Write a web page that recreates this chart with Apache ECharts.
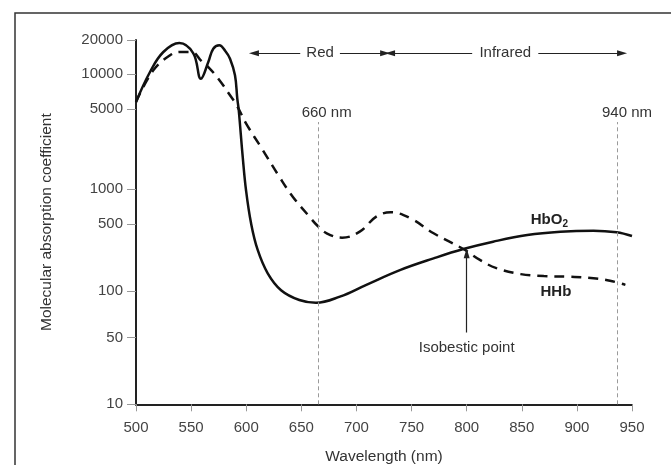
<!DOCTYPE html>
<html>
<head>
<meta charset="utf-8">
<script src="https://cdn.jsdelivr.net/npm/echarts@6/dist/echarts.min.js"></script>
<style>
html, body { margin: 0; padding: 0; background: #fff; }
#chart { width: 671px; height: 465px; }
</style>
</head>
<body>
<div id="chart"></div>
<script>
// y axis of the printed figure is hand drawn: the decades are not evenly spaced,
// so values are placed by log interpolation between the printed ticks
var yTicks = [10, 50, 100, 500, 1000, 5000, 10000, 20000];
var yBreaks = [0, 66.6, 113.3, 180.3, 215, 295, 330.3, 364.3];

var hbo2Nm = [500, 512.7, 524.8, 539.3, 552, 558.9, 565.6, 570.1, 575.6, 581, 585.3, 589.8, 591.9, 593.2, 596.8, 599.8, 604.4, 610.4, 619.5, 631.6, 648.2, 663.3, 685, 709, 740, 770, 797, 824, 855, 885, 915, 936, 950];
var hbo2Val = [5770, 10420, 15660, 18810, 15250, 9120, 12770, 16750, 17950, 15980, 13660, 9750, 6160, 4930, 1930, 986, 507, 268, 153, 102, 87.5, 84, 92, 116, 166, 219, 274, 327, 384, 416, 426, 410, 375];

var hhbNm = [500, 515.7, 530.9, 539.9, 550.5, 559.6, 565.6, 574.7, 585.3, 591.4, 599.8, 615, 630, 642.2, 657.3, 664, 673, 687, 703, 718, 731, 749, 770, 797, 812, 827, 849, 870, 894, 915, 930, 944];
var hhbVal = [5770, 10780, 14640, 15660, 15660, 12950, 11530, 9120, 6590, 5410, 3770, 2205, 1288, 863, 579, 488, 400, 360, 416, 579, 632, 560, 400, 274, 211, 173, 150, 143, 141, 136, 128, 116];

// annotations
var windowNm = [665, 937];
var windowText = ['660 nm', '940 nm'];
var windowTop = 3870;
var windowLabelVal = 4700;
var bandLevel = 15250;
var redBand = [607, 649, 685, 726];
var irBand = [730.5, 805, 865, 941];
var isoNm = 800;
var isoArrow = [54, 247];
var isoTextVal = 39;

function yPos(v) {
    var lv = Math.log10(v);
    for (var i = 0; i < yTicks.length - 1; i++) {
        if (v <= yTicks[i + 1] || i == yTicks.length - 2) {
            var a = Math.log10(yTicks[i]), b = Math.log10(yTicks[i + 1]);
            return yBreaks[i] + (lv - a) / (b - a) * (yBreaks[i + 1] - yBreaks[i]);
        }
    }
}

function pairs(xs, vs) {
    return xs.map(function (x, i) { return [x, yPos(vs[i])]; });
}

function arrow(x1, v1, x2, v2) {
    return [{ coord: [x1, yPos(v1)], symbol: 'none' }, { coord: [x2, yPos(v2)], symbol: 'triangle' }];
}

var lines = [];
windowNm.forEach(function (x) {
    lines.push([
        { coord: [x, yPos(10)], symbol: 'none', lineStyle: { color: '#9a9a9a', width: 1, type: [4, 3] } },
        { coord: [x, yPos(windowTop)], symbol: 'none' }
    ]);
});
lines.push(arrow(redBand[1], bandLevel, redBand[0], bandLevel));
lines.push(arrow(redBand[2], bandLevel, redBand[3], bandLevel));
lines.push(arrow(irBand[1], bandLevel, irBand[0], bandLevel));
lines.push(arrow(irBand[2], bandLevel, irBand[3], bandLevel));
lines.push(arrow(isoNm, isoArrow[0], isoNm, isoArrow[1]));

var notes = [
    { name: windowText[0], coord: [windowNm[0] + 8, yPos(windowLabelVal)] },
    { name: windowText[1], coord: [windowNm[1] + 8.5, yPos(windowLabelVal)] },
    { name: 'Red', coord: [667, yPos(bandLevel)] },
    { name: 'Infrared', coord: [835, yPos(bandLevel)] },
    { name: 'Isobestic point', coord: [isoNm, yPos(isoTextVal)] },
    { name: 'HbO2', coord: [875, yPos(542)], label: { fontWeight: 'bold', color: '#222' } },
    { name: 'HHb', coord: [881, yPos(99)], label: { fontWeight: 'bold', color: '#222' } }
];

var myChart = echarts.init(document.getElementById('chart'));
option = {
    animation: false,
    textStyle: { fontFamily: 'Liberation Sans, Arial, sans-serif' },
    grid: { left: 136, right: 39, top: 40, bottom: 60.7, outerBoundsMode: 'none', containLabel: false },
    graphic: [{
        type: 'polyline',
        silent: true,
        shape: { points: [[15, 465], [15, 13], [671, 13]] },
        style: { stroke: '#333', lineWidth: 1.5, fill: null }
    }],
    xAxis: {
        type: 'value',
        min: 500,
        max: 950,
        interval: 50,
        name: 'Wavelength (nm)',
        nameLocation: 'middle',
        nameGap: 44,
        nameTextStyle: { fontSize: 15.5, color: '#333' },
        axisLine: { lineStyle: { color: '#222', width: 2 } },
        axisTick: { length: 7, lineStyle: { color: '#999' } },
        axisLabel: { fontSize: 15, color: '#444', margin: 16 },
        splitLine: { show: false }
    },
    yAxis: {
        type: 'value',
        min: 0,
        max: yBreaks[yBreaks.length - 1],
        name: 'Molecular absorption coefficient',
        nameLocation: 'middle',
        nameGap: 81,
        nameTextStyle: { fontSize: 15.5, color: '#333' },
        axisLine: { show: true, lineStyle: { color: '#222', width: 2 } },
        axisTick: { show: true, length: 9, customValues: yBreaks, lineStyle: { color: '#999' } },
        axisLabel: {
            customValues: yBreaks,
            fontSize: 15,
            color: '#444',
            margin: 13,
            formatter: function (v) {
                var best = 0;
                for (var i = 1; i < yBreaks.length; i++) {
                    if (Math.abs(yBreaks[i] - v) < Math.abs(yBreaks[best] - v)) best = i;
                }
                return String(yTicks[best]);
            }
        },
        splitLine: { show: false }
    },
    series: [{
        name: 'HbO2',
        type: 'line',
        data: pairs(hbo2Nm, hbo2Val),
        showSymbol: false,
        smooth: 0.4,
        z: 3,
        lineStyle: { color: '#111', width: 2.5 },
        markLine: {
            silent: true,
            symbolSize: [6, 10],
            label: { show: false },
            lineStyle: { color: '#222', width: 1.2, type: 'solid' },
            data: lines
        },
        markPoint: {
            silent: true,
            symbol: 'circle',
            symbolSize: 1,
            itemStyle: { color: 'transparent' },
            label: {
                show: true,
                position: 'inside',
                fontSize: 15,
                color: '#333',
                formatter: function (p) {
                    return p.name == 'HbO2' ? '{m|HbO}{s|2}' : p.name;
                },
                rich: {
                    m: { fontSize: 15, fontWeight: 'bold', color: '#222' },
                    s: { fontSize: 10, fontWeight: 'bold', color: '#222', padding: [9, 0, 0, 0] }
                }
            },
            data: notes
        }
    }, {
        name: 'HHb',
        type: 'line',
        data: pairs(hhbNm, hhbVal),
        showSymbol: false,
        smooth: 0.4,
        z: 3,
        lineStyle: { color: '#111', width: 2.5, type: [10, 7] }
    }]
};

myChart.setOption(option);

window.onresize = function () {
    myChart.resize();
}
</script>
</body>
</html>
